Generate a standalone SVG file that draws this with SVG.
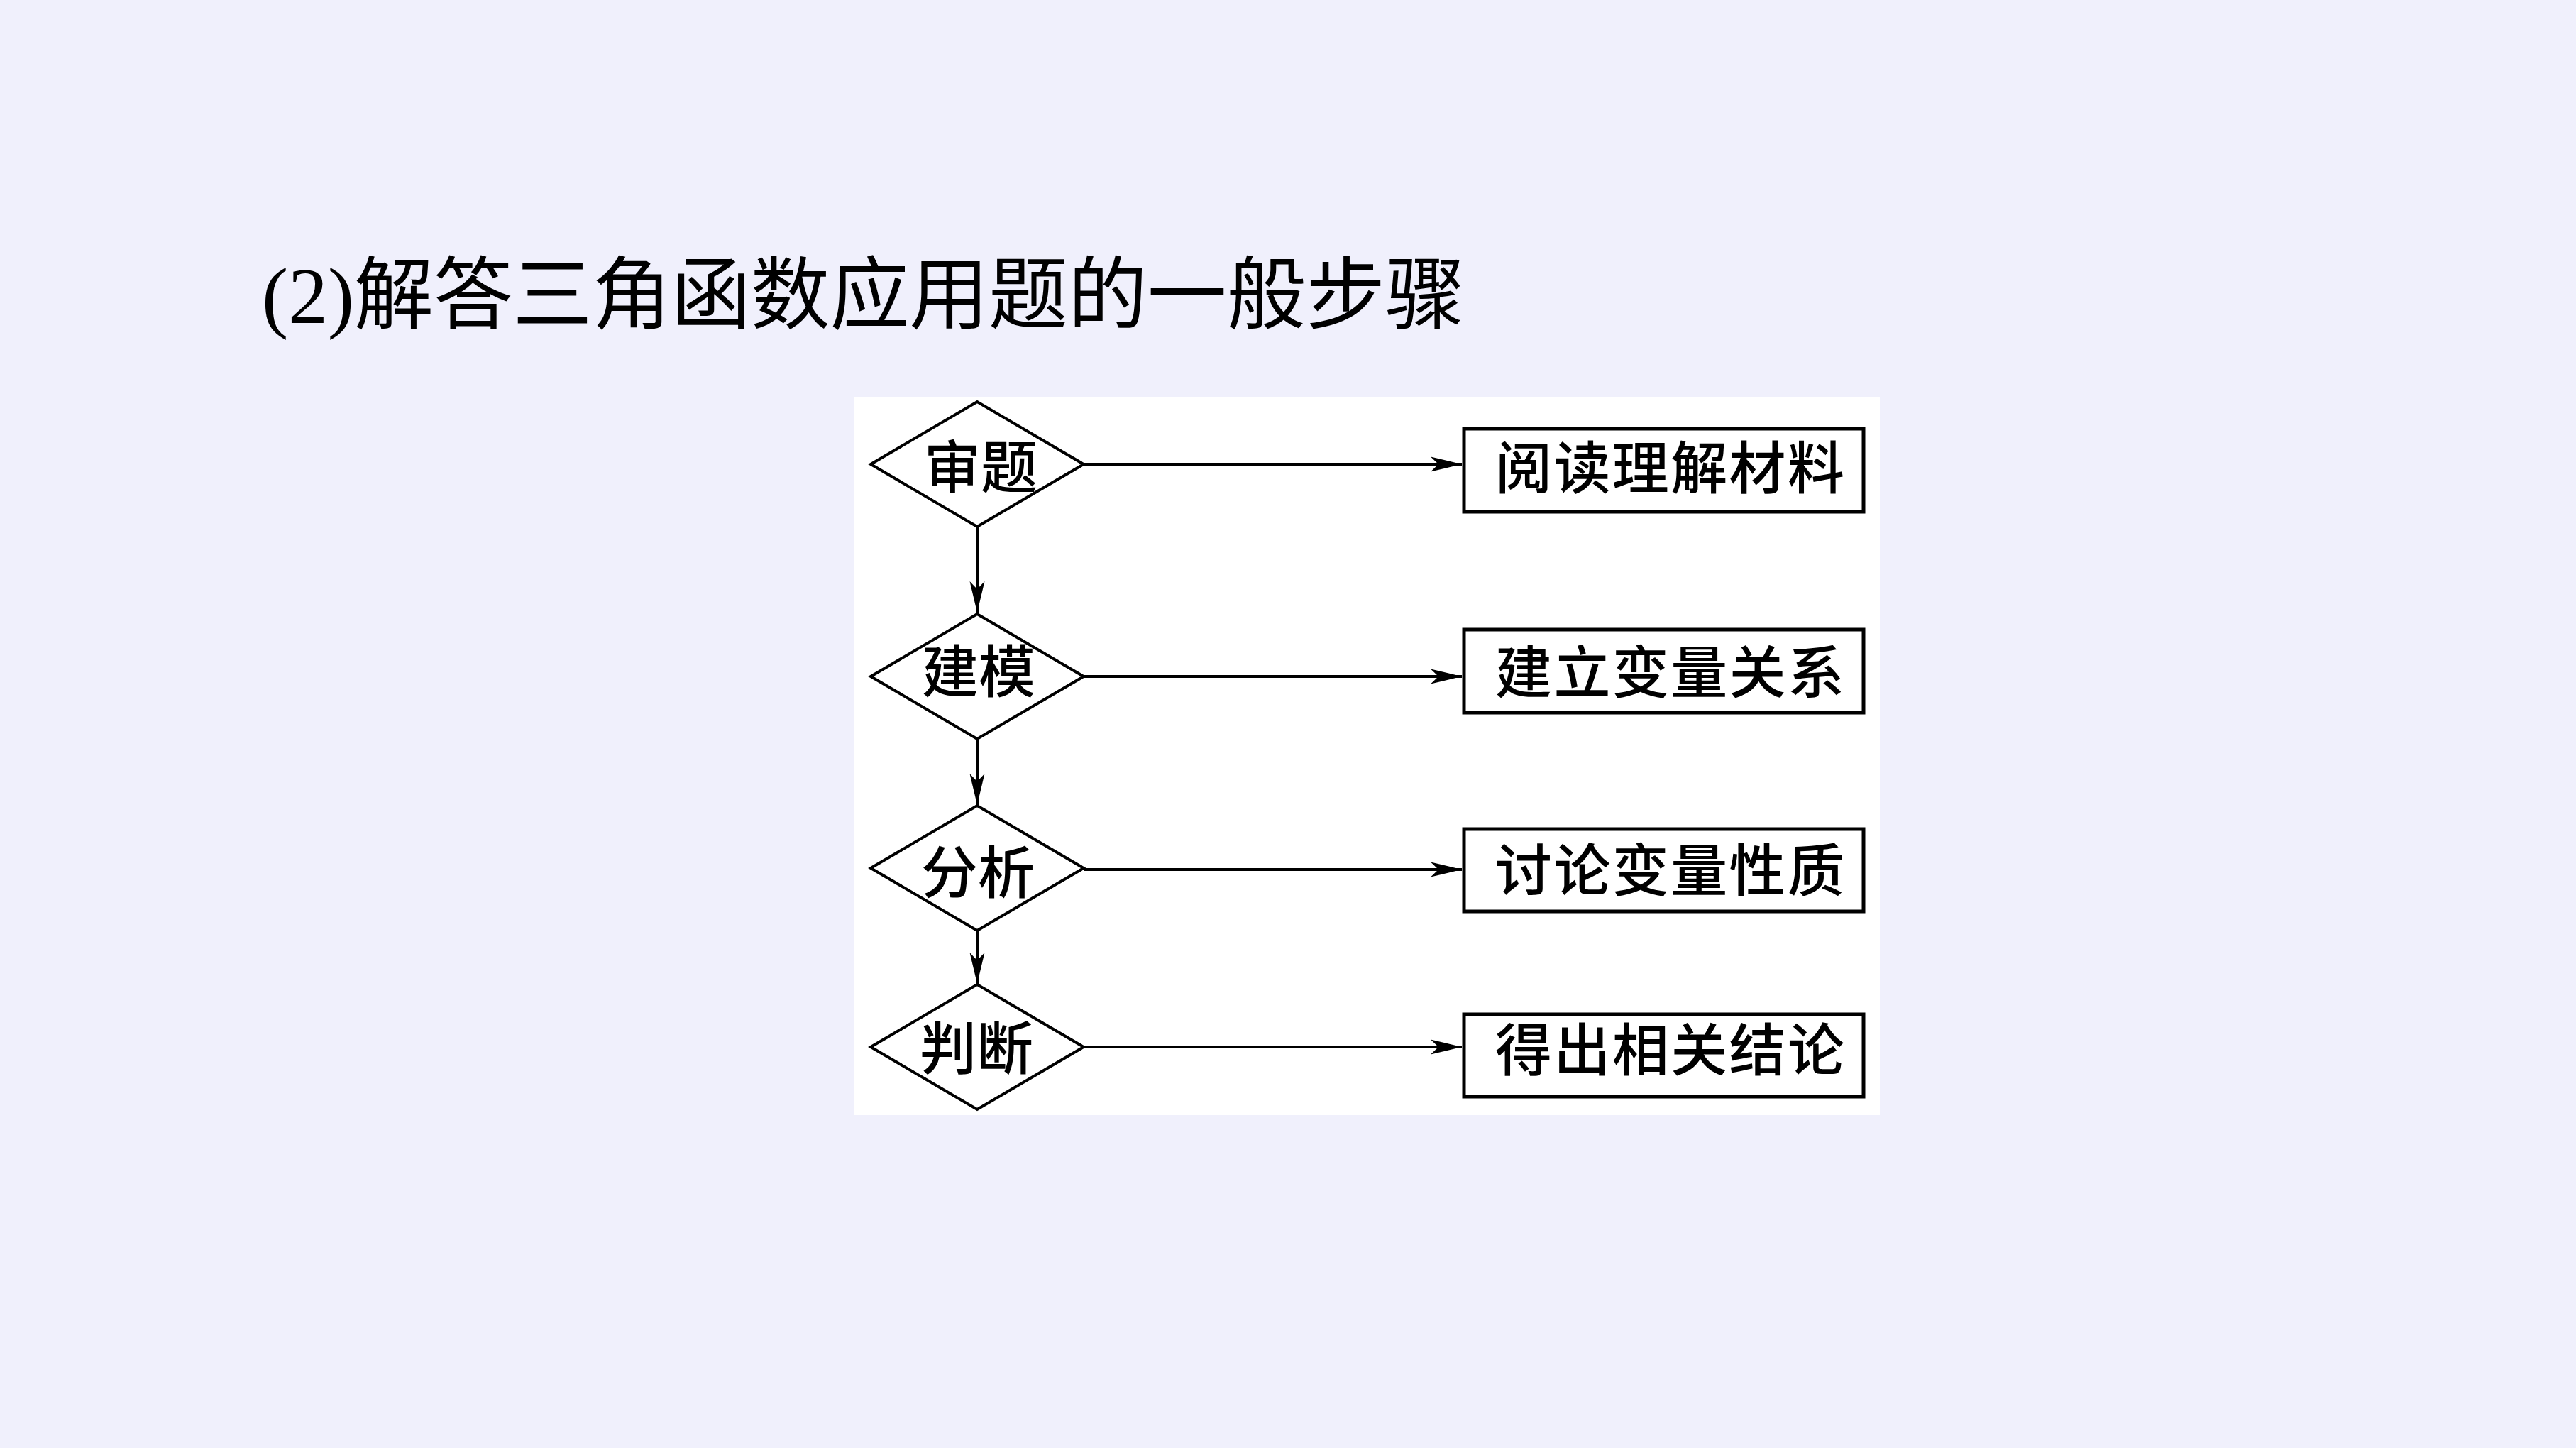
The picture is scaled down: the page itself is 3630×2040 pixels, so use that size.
<svg xmlns="http://www.w3.org/2000/svg" width="3630" height="2040" viewBox="0 0 3630 2040">
<style>
.title{font-family:"Liberation Serif","Noto Sans CJK SC",serif;font-size:112px;fill:#000}
.lbl{font-family:"Noto Sans CJK SC",sans-serif;font-size:80px;font-weight:500;fill:#000;text-anchor:middle;dominant-baseline:central}
.dia{fill:#fff;stroke:#000;stroke-width:4}
.box{fill:#fff;stroke:#000;stroke-width:5}
.con{stroke:#000;stroke-width:4;fill:none}
</style>
<defs>
<marker id="ah" markerUnits="userSpaceOnUse" viewBox="-44 -12 46 24" refX="0" refY="0" markerWidth="46" markerHeight="24" orient="auto">
<path d="M0,0 L-44,-10.5 L-33,0 L-44,10.5 Z" fill="#000"/>
</marker>
</defs>
<rect x="0" y="0" width="3630" height="2040" fill="#F0F0FC"/>
<text class="title" x="369" y="455" textLength="1695" lengthAdjust="spacing">(2)解答三角函数应用题的一般步骤</text>
<rect id="panel" x="1203" y="559" width="1446" height="1012" fill="#fff"/>
<g id="connectors">
<line class="con" x1="1377" y1="742" x2="1377" y2="863" marker-end="url(#ah)"/>
<line class="con" x1="1377" y1="1040" x2="1377" y2="1134" marker-end="url(#ah)"/>
<line class="con" x1="1377" y1="1311" x2="1377" y2="1386" marker-end="url(#ah)"/>
<line class="con" x1="1527" y1="654" x2="2060" y2="654" marker-end="url(#ah)"/>
<line class="con" x1="1527" y1="953" x2="2060" y2="953" marker-end="url(#ah)"/>
<line class="con" x1="1527" y1="1225" x2="2060" y2="1225" marker-end="url(#ah)"/>
<line class="con" x1="1527" y1="1475" x2="2060" y2="1475" marker-end="url(#ah)"/>
</g>
<g id="d1"><polygon class="dia" points="1227,654 1377,566 1527,654 1377,742"/><text class="lbl" x="1382" y="652">审题</text></g>
<g id="d2"><polygon class="dia" points="1227,953 1377,865 1527,953 1377,1041"/><text class="lbl" x="1379" y="940">建模</text></g>
<g id="d3"><polygon class="dia" points="1227,1223 1377,1135 1527,1223 1377,1311"/><text class="lbl" x="1378" y="1223">分析</text></g>
<g id="d4"><polygon class="dia" points="1227,1475 1377,1387 1527,1475 1377,1563"/><text class="lbl" x="1376" y="1471">判断</text></g>
<g id="b1"><rect class="box" x="2063" y="604" width="563" height="117"/><text class="lbl" x="2353" y="653" textLength="492" lengthAdjust="spacing">阅读理解材料</text></g>
<g id="b2"><rect class="box" x="2063" y="887" width="563" height="117"/><text class="lbl" x="2353" y="941" textLength="492" lengthAdjust="spacing">建立变量关系</text></g>
<g id="b3"><rect class="box" x="2063" y="1168" width="563" height="116"/><text class="lbl" x="2353" y="1220" textLength="492" lengthAdjust="spacing">讨论变量性质</text></g>
<g id="b4"><rect class="box" x="2063" y="1429" width="563" height="116"/><text class="lbl" x="2353" y="1473" textLength="492" lengthAdjust="spacing">得出相关结论</text></g>
</svg>
